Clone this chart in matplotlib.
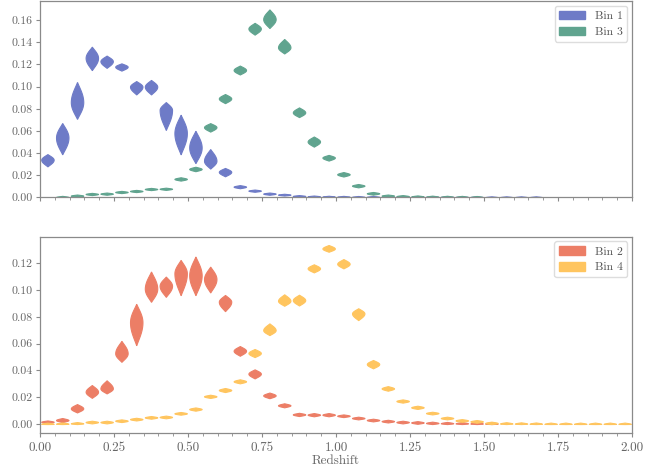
import numpy as np
import matplotlib
matplotlib.use("Agg")
import matplotlib.pyplot as plt
from matplotlib.ticker import MultipleLocator, FormatStrFormatter
from matplotlib.patches import Patch

plt.rcParams['font.family'] = 'serif'
plt.rcParams['font.serif'] = ['cmr10', 'DejaVu Serif']
plt.rcParams['mathtext.fontset'] = 'cm'
plt.rcParams['axes.formatter.use_mathtext'] = True
plt.rcParams['axes.unicode_minus'] = False

nan = np.nan
# redshift bin centres
z_bins = [0.025, 0.075, 0.125, 0.175, 0.225, 0.275, 0.325, 0.375, 0.425, 0.475,
          0.525, 0.575, 0.625, 0.675, 0.725, 0.775, 0.825, 0.875, 0.925, 0.975,
          1.025, 1.075, 1.125, 1.175, 1.225, 1.275, 1.325, 1.375, 1.425, 1.475,
          1.525, 1.575, 1.625, 1.675, 1.725, 1.775, 1.825, 1.875, 1.925, 1.975]

# Bin 1: mode, lower and upper extent of each violin
bin1_mid = [0.034, 0.054, 0.086, 0.126, 0.123, 0.118, 0.100, 0.100, 0.079, 0.058,
            0.045, 0.033, 0.023, 0.0096, 0.006, 0.0033, 0.0024, 0.0012, 0.0008, 0.0006,
            0.0005, 0.0004, 0.0004, 0.0003, 0.0003, 0.0002, 0.0002, 0.0002, 0.0001, 0.0001,
            0.0001, 0.0001, 0.0001, 0.0001, nan, nan, nan, nan, nan, nan]
bin1_lo = [0.028, 0.039, 0.071, 0.115, 0.117, 0.1145, 0.093, 0.093, 0.061, 0.039,
           0.031, 0.026, 0.019, 0.0082, 0.005, 0.0023, 0.0016, 0.0004, 0.0, 0.0,
           0.0, 0.0, 0.0, 0.0, 0.0, 0.0, 0.0, 0.0, 0.0, 0.0,
           0.0, 0.0, 0.0, 0.0, nan, nan, nan, nan, nan, nan]
bin1_hi = [0.039, 0.067, 0.104, 0.136, 0.128, 0.121, 0.105, 0.106, 0.086, 0.0745,
           0.060, 0.0435, 0.0265, 0.011, 0.007, 0.0043, 0.0032, 0.002, 0.0016, 0.0014,
           0.0013, 0.0012, 0.0012, 0.0011, 0.0011, 0.001, 0.001, 0.001, 0.0009, 0.0009,
           0.0009, 0.0009, 0.0009, 0.0009, nan, nan, nan, nan, nan, nan]

# Bin 3
bin3_mid = [nan, 0.0003, 0.0015, 0.003, 0.0033, 0.0048, 0.0057, 0.0075, 0.0077, 0.0166,
            0.0256, 0.0634, 0.0893, 0.115, 0.1525, 0.161, 0.1355, 0.0767, 0.0504, 0.0359,
            0.0208, 0.0105, 0.0036, 0.0015, 0.001, 0.0007, 0.0005, 0.0004, 0.0003, 0.0002,
            nan, nan, nan, nan, nan, nan, nan, nan, nan, nan]
bin3_lo = [nan, 0.0, 0.0005, 0.002, 0.0023, 0.0038, 0.0047, 0.0065, 0.0067, 0.0151,
           0.0236, 0.0594, 0.0851, 0.111, 0.147, 0.153, 0.130, 0.0725, 0.0458, 0.0332,
           0.0188, 0.009, 0.0024, 0.0005, 0.0, 0.0, 0.0, 0.0, 0.0, 0.0,
           nan, nan, nan, nan, nan, nan, nan, nan, nan, nan]
bin3_hi = [nan, 0.0013, 0.0025, 0.004, 0.0043, 0.0058, 0.0067, 0.0085, 0.0087, 0.0181,
           0.0276, 0.067, 0.0933, 0.119, 0.1576, 0.1697, 0.143, 0.0812, 0.0549, 0.0383,
           0.0228, 0.012, 0.0048, 0.0025, 0.002, 0.0017, 0.0015, 0.0014, 0.0013, 0.0012,
           nan, nan, nan, nan, nan, nan, nan, nan, nan, nan]

# Bin 2
bin2_mid = [0.0017, 0.003, 0.0117, 0.0241, 0.0266, 0.0528, 0.076, 0.101, 0.1032, 0.1125,
            0.111, 0.1082, 0.0913, 0.0547, 0.0376, 0.0214, 0.014, 0.0072, 0.007, 0.007,
            0.0062, 0.0045, 0.003, 0.0022, 0.0015, 0.0012, 0.0008, 0.0006, 0.0005, 0.0004,
            0.0003, nan, nan, nan, nan, nan, nan, nan, nan, nan]
bin2_lo = [0.0007, 0.0015, 0.0087, 0.0196, 0.0229, 0.0465, 0.059, 0.0913, 0.095, 0.0963,
           0.0963, 0.0983, 0.0843, 0.051, 0.0341, 0.0193, 0.0125, 0.006, 0.0058, 0.0058,
           0.0052, 0.0035, 0.002, 0.0012, 0.0005, 0.0002, 0.0, 0.0, 0.0, 0.0,
           0.0, nan, nan, nan, nan, nan, nan, nan, nan, nan]
bin2_hi = [0.0027, 0.0045, 0.0149, 0.0291, 0.0326, 0.062, 0.0896, 0.1137, 0.110, 0.1224,
           0.1249, 0.1174, 0.0963, 0.0582, 0.0408, 0.0235, 0.0155, 0.0084, 0.0082, 0.0082,
           0.0072, 0.0055, 0.004, 0.0032, 0.0025, 0.0022, 0.0018, 0.0016, 0.0015, 0.0014,
           0.0013, nan, nan, nan, nan, nan, nan, nan, nan, nan]

# Bin 4
bin4_mid = [0.0001, 0.0002, 0.0005, 0.0015, 0.0015, 0.0025, 0.0037, 0.005, 0.0053, 0.008,
            0.0112, 0.0207, 0.0254, 0.0319, 0.053, 0.0701, 0.092, 0.0925, 0.1162, 0.131,
            0.1196, 0.0826, 0.0448, 0.0266, 0.0172, 0.0125, 0.0082, 0.0045, 0.0027, 0.002,
            0.0008, 0.0004, 0.0003, 0.0002, 0.0001, 0.0001, 0.0001, 0.0001, 0.0001, 0.0001]
bin4_lo = [0.0, 0.0, 0.0, 0.0005, 0.0005, 0.0015, 0.0027, 0.004, 0.0043, 0.007,
           0.0100, 0.0195, 0.0239, 0.0304, 0.050, 0.0664, 0.0883, 0.0885, 0.1132, 0.1286,
           0.1162, 0.0776, 0.0416, 0.0249, 0.016, 0.0113, 0.0072, 0.0035, 0.0017, 0.001,
           0.0, 0.0, 0.0, 0.0, 0.0, 0.0, 0.0, 0.0, 0.0, 0.0]
bin4_hi = [0.0011, 0.0012, 0.0015, 0.0025, 0.0025, 0.0035, 0.0047, 0.006, 0.0063, 0.009,
           0.0124, 0.0219, 0.0269, 0.0334, 0.056, 0.0751, 0.0968, 0.0965, 0.1192, 0.1336,
           0.1231, 0.0864, 0.0478, 0.0283, 0.0184, 0.0137, 0.0092, 0.0055, 0.0037, 0.003,
           0.0018, 0.0014, 0.0013, 0.0012, 0.0011, 0.0011, 0.0011, 0.0011, 0.0011, 0.0011]

colors = {"Bin 1": "#6e7bc7", "Bin 3": "#60a48f", "Bin 2": "#ec7e66", "Bin 4": "#ffc55f"}


def violin_series(ax, mids, los, his, color):
    pos, stats = [], []
    for z, m, lo, hi in zip(z_bins, mids, los, his):
        if np.isnan(m):
            continue
        lo_s = max(m - lo, 1e-5)
        hi_s = max(hi - m, 1e-5)
        c = np.linspace(m - lo_s, m + hi_s, 90)
        t = np.where(c < m, (c - m) / lo_s, (c - m) / hi_s)
        v = np.cos(np.clip(np.abs(t), 0, 1) * np.pi / 2) ** 1.1 + 0.02
        stats.append(dict(coords=c, vals=v, mean=m, median=m, min=m - lo_s, max=m + hi_s))
        pos.append(z)
    parts = ax.violin(stats, positions=pos, widths=0.042, showmeans=False,
                      showextrema=False, showmedians=False)
    for b in parts['bodies']:
        b.set_facecolor(color)
        b.set_edgecolor(color)
        b.set_linewidth(0.8)
        b.set_alpha(1.0)


fig = plt.figure(figsize=(6.65, 4.68), dpi=100)
ax1 = fig.add_axes([0.0602, 0.5784, 0.8902, 0.4186])
ax2 = fig.add_axes([0.0602, 0.0741, 0.8902, 0.4201], sharex=ax1)

violin_series(ax1, bin1_mid, bin1_lo, bin1_hi, colors["Bin 1"])
violin_series(ax1, bin3_mid, bin3_lo, bin3_hi, colors["Bin 3"])
violin_series(ax2, bin2_mid, bin2_lo, bin2_hi, colors["Bin 2"])
violin_series(ax2, bin4_mid, bin4_lo, bin4_hi, colors["Bin 4"])

for ax, labs in ((ax1, ["Bin 1", "Bin 3"]), (ax2, ["Bin 2", "Bin 4"])):
    handles = [Patch(facecolor=colors[l], edgecolor=colors[l]) for l in labs]
    leg = ax.legend(handles, labs, loc='upper right', fontsize=8.5, frameon=True,
                    fancybox=True, edgecolor='#dddddd', framealpha=1,
                    handlelength=2.2, handleheight=0.75, labelspacing=0.45,
                    borderaxespad=0.4)
    for t in leg.get_texts():
        t.set_color('#555555')
    for sp in ax.spines.values():
        sp.set_color('#8a8a8a')
        sp.set_linewidth(0.9)
    ax.tick_params(axis='y', colors='#8a8a8a', labelcolor='#666666', labelsize=8.5,
                   length=3, width=0.8, pad=2.5)
    ax.tick_params(axis='x', colors='#8a8a8a', labelcolor='#666666', labelsize=9.5,
                   length=3, width=0.8, pad=3)
    ax.tick_params(axis='x', which='minor', colors='#8a8a8a', length=2, width=0.6)
    ax.yaxis.set_major_locator(MultipleLocator(0.02))
    ax.yaxis.set_major_formatter(FormatStrFormatter('%.2f'))

ax1.set_xlim(0, 2)
ax1.xaxis.set_major_locator(MultipleLocator(0.25))
ax1.xaxis.set_minor_locator(MultipleLocator(0.05))
ax1.xaxis.set_major_formatter(FormatStrFormatter('%.2f'))
ax1.set_ylim(0, 0.177)
ax2.set_ylim(-0.0069, 0.1398)
plt.setp(ax1.get_xticklabels(), visible=False)
ax2.set_xlabel('Redshift', color='#666666', fontsize=9.5, labelpad=0.5)

fig.savefig('out.png', dpi=100)
